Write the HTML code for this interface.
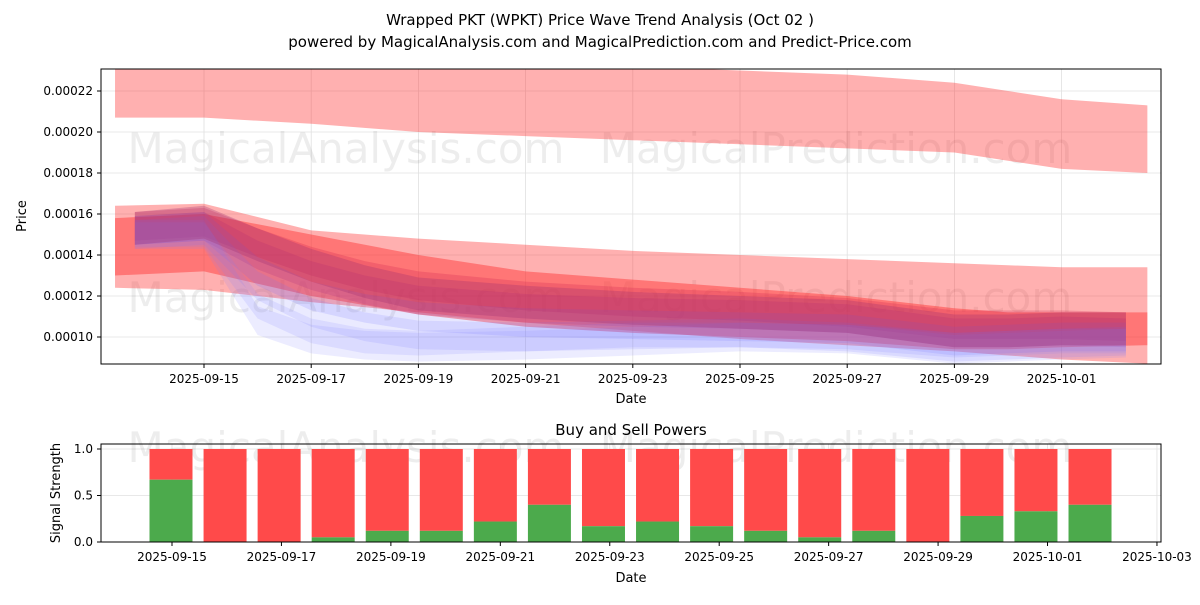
<!DOCTYPE html>
<html><head><meta charset="utf-8"><style>
body{margin:0;background:#fff;font-family:"Liberation Sans","DejaVu Sans",sans-serif}
svg text{font-family:"DejaVu Sans","Liberation Sans",sans-serif}
</style></head><body>
<svg id="c" width="1200" height="600" viewBox="0 0 1200 600" xmlns="http://www.w3.org/2000/svg">
<text x="600" y="25" text-anchor="middle" font-size="15">Wrapped PKT (WPKT) Price Wave Trend Analysis (Oct 02 )</text>
<text x="600" y="47" text-anchor="middle" font-size="15">powered by MagicalAnalysis.com and MagicalPrediction.com and Predict-Price.com</text>
<g id="topg"></g>
<g id="bot"></g>
</svg>
<script>
// ---- data ----
const bandDays = [-1.66, 0, 2, 4, 6, 8, 10, 12, 14, 15, 16, 17.6];
const topBandLow = [0.000207,0.000207,0.000204,0.000200,0.000198,0.000196,0.000194,0.000192,0.000190,0.000186,0.000182,0.000180];
const topBandHigh= [0.000240,0.000240,0.000238,0.000236,0.000234,0.000232,0.000230,0.000228,0.000224,0.000220,0.000216,0.000213];
const wideLow  = [0.000124,0.000123,0.000117,0.000112,0.000107,0.000103,0.000099,0.000096,0.000093,0.000091,0.000089,0.000087];
const wideHigh = [0.000164,0.000165,0.000152,0.000148,0.000145,0.000142,0.000140,0.000138,0.000136,0.000135,0.000134,0.000134];
const redLow   = [0.000130,0.000132,0.000120,0.000111,0.000105,0.000102,0.000100,0.000098,0.000094,0.000094,0.000095,0.000096];
const redHigh  = [0.000158,0.000160,0.000150,0.000140,0.000132,0.000128,0.000124,0.000120,0.000114,0.000112,0.000112,0.000112];
const waveDays = [-1.29, 0, 1, 2, 3, 4, 6, 8, 10, 12, 14, 15, 16, 17.2];
const waveCenters = [
 [0.000154,0.000156,0.000146,0.000137,0.000130,0.000125,0.000120,0.000117,0.000115,0.000112,0.000106,0.000106,0.000106,0.000105],
 [0.000152,0.000154,0.000140,0.000130,0.000123,0.000118,0.000114,0.000112,0.000111,0.000109,0.000102,0.000102,0.000103,0.000102],
 [0.000152,0.000154,0.000132,0.000120,0.000114,0.000110,0.000107,0.000106,0.000105,0.000104,0.000098,0.000099,0.000100,0.000100],
 [0.000150,0.000152,0.000125,0.000112,0.000105,0.000101,0.000100,0.000101,0.000102,0.000100,0.000095,0.000096,0.000097,0.000098],
 [0.000150,0.000150,0.000108,0.000099,0.000096,0.000095,0.000096,0.000098,0.000100,0.000099,0.000094,0.000095,0.000096,0.000097],
 [0.000150,0.000150,0.000115,0.000103,0.000098,0.000097,0.000099,0.000101,0.000101,0.000100,0.000096,0.000097,0.000098,0.000098],
 [0.000153,0.000156,0.000145,0.000135,0.000127,0.000121,0.000117,0.000114,0.000112,0.000110,0.000103,0.000103,0.000104,0.000104]
];
const waveHalf = [0.000007,0.000007,0.000007,0.000007,0.000007,0.000006,0.000008];
const waveColors = ['#d02050','#c03070','#6060ff','#7070ff','#8080ff','#8080ff','#a03070'];
const waveOpac = [0.25,0.25,0.15,0.15,0.15,0.15,0.3];
const yTicks = [0.00010,0.00012,0.00014,0.00016,0.00018,0.00020,0.00022];
const yTickLabels = ['0.00010','0.00012','0.00014','0.00016','0.00018','0.00020','0.00022'];
const xTickDays = [0,2,4,6,8,10,12,14,16];
const xTickLabels = ['2025-09-15','2025-09-17','2025-09-19','2025-09-21','2025-09-23','2025-09-25','2025-09-27','2025-09-29','2025-10-01'];
const barDays = [0,1,2,3,4,5,6,7,8,9,10,11,12,13,14,15,16,17];
const buyPower = [0.67,0,0,0.05,0.12,0.12,0.22,0.40,0.17,0.22,0.17,0.12,0.05,0.12,0,0.28,0.33,0.40];
const botTickDays = [0,2,4,6,8,10,12,14,16,18];
const botTickLabels = ['2025-09-15','2025-09-17','2025-09-19','2025-09-21','2025-09-23','2025-09-25','2025-09-27','2025-09-29','2025-10-01','2025-10-03'];
const sTicks = [0,0.5,1.0];
const sTickLabels = ['0.0','0.5','1.0'];

const NS='http://www.w3.org/2000/svg';
function mk(p,t,a){const e=document.createElementNS(NS,t);for(const k in a)e.setAttribute(k,a[k]);p.appendChild(e);return e;}
const L=101,R=1161,T=69,B=364;
const xs=d=>204+53.6*d;
const ys=v=>337-(v-0.0001)/0.00002*41;
const topG=document.getElementById('topg');
const cp=mk(topG,'clipPath',{id:'cp'});
mk(cp,'rect',{x:L,y:T,width:R-L,height:B-T});
yTicks.forEach(v=>{const g=mk(topG,'line',{x1:L,x2:R,y1:ys(v),y2:ys(v),stroke:'#e0e0e0','stroke-width':0.8});

});
xTickDays.forEach(d=>{const g=mk(topG,'line',{x1:xs(d),x2:xs(d),y1:T,y2:B,stroke:'#e0e0e0','stroke-width':0.8});

});
[[346,163,'MagicalAnalysis.com'],[836,163,'MagicalPrediction.com'],[346,312,'MagicalAnalysis.com'],[836,312,'MagicalPrediction.com']].forEach(w=>{
 const e=mk(topG,'text',{x:w[0],y:w[1],'font-size':42,fill:'#000','fill-opacity':0.07,'text-anchor':'middle'});e.textContent=w[2];
 
 
});
const plot=mk(topG,'g',{'clip-path':'url(#cp)'});
function band(days,lo,hi,color,op,name){
 let pts=days.map((d,i)=>xs(d)+','+ys(hi[i]));
 pts=pts.concat(days.map((d,i)=>xs(d)+','+ys(lo[i])).reverse());
 const p=mk(plot,'polygon',{points:pts.join(' '),fill:color,'fill-opacity':op});
 
 
}
band(bandDays,topBandLow,topBandHigh,'#ff3030',0.38,'upper-price-band');
band(bandDays,wideLow,wideHigh,'#ff3030',0.38,'wide-price-band');
band(bandDays,redLow,redHigh,'#ff3030',0.45,'core-price-band');
waveCenters.forEach((c,k)=>{
 band(waveDays,c.map(v=>v-waveHalf[k]),c.map(v=>v+waveHalf[k]),waveColors[k],waveOpac[k],'wave-band');
});
mk(topG,'rect',{x:L,y:T,width:R-L,height:B-T,fill:'none',stroke:'#000','stroke-width':1});
yTicks.forEach((v,i)=>{mk(topG,'line',{x1:L-4,x2:L,y1:ys(v),y2:ys(v),stroke:'#000'});
 const t=mk(topG,'text',{x:L-8,y:ys(v)+4,'font-size':12,'text-anchor':'end'});t.textContent=yTickLabels[i];
 
 });
xTickDays.forEach((d,i)=>{mk(topG,'line',{x1:xs(d),x2:xs(d),y1:B,y2:B+4,stroke:'#000'});
 const t=mk(topG,'text',{x:xs(d),y:B+19,'font-size':12,'text-anchor':'middle'});t.textContent=xTickLabels[i];
 
 });
let t=mk(topG,'text',{x:631,y:403,'font-size':13,'text-anchor':'middle'});t.textContent='Date';


t=mk(topG,'text',{x:26,y:216,'font-size':13,'text-anchor':'middle',transform:'rotate(-90 26 216)'});t.textContent='Price';



const bot=document.getElementById('bot');
const BT=444,BB=542;
const bx=d=>171+54.06*d;
const tx=d=>172+54.72*d;
const by=v=>BB-v*(BB-449)/1.0;
t=mk(bot,'text',{x:631,y:435,'font-size':15,'text-anchor':'middle'});t.textContent='Buy and Sell Powers';


sTicks.forEach(v=>{const g=mk(bot,'line',{x1:L,x2:R,y1:by(v),y2:by(v),stroke:'#e0e0e0','stroke-width':0.8});

});
botTickDays.forEach(d=>{const g=mk(bot,'line',{x1:tx(d),x2:tx(d),y1:BT,y2:BB,stroke:'#e0e0e0','stroke-width':0.8});

});
[[346,462,'MagicalAnalysis.com'],[836,462,'MagicalPrediction.com']].forEach(w=>{
 const e=mk(bot,'text',{x:w[0],y:w[1],'font-size':42,fill:'#000','fill-opacity':0.07,'text-anchor':'middle'});e.textContent=w[2];
 
 
});
barDays.forEach((d,i)=>{
 const b=buyPower[i];
 const s=mk(bot,'rect',{x:bx(d)-21.5,y:by(1),width:43,height:by(b)-by(1),fill:'#ff4a4a'});
 
 
 const g=mk(bot,'rect',{x:bx(d)-21.5,y:by(b),width:43,height:by(0)-by(b),fill:'#4caa4c'});
 
 
});
mk(bot,'rect',{x:L,y:BT,width:R-L,height:BB-BT,fill:'none',stroke:'#000','stroke-width':1});
sTicks.forEach((v,i)=>{mk(bot,'line',{x1:L-4,x2:L,y1:by(v),y2:by(v),stroke:'#000'});
 const q=mk(bot,'text',{x:L-8,y:by(v)+4,'font-size':12,'text-anchor':'end'});q.textContent=sTickLabels[i];
 
 });
botTickDays.forEach((d,i)=>{mk(bot,'line',{x1:tx(d),x2:tx(d),y1:BB,y2:BB+4,stroke:'#000'});
 const q=mk(bot,'text',{x:tx(d),y:BB+19,'font-size':12,'text-anchor':'middle'});q.textContent=botTickLabels[i];
 
 });
t=mk(bot,'text',{x:631,y:582,'font-size':13,'text-anchor':'middle'});t.textContent='Date';


t=mk(bot,'text',{x:60,y:493,'font-size':13,'text-anchor':'middle',transform:'rotate(-90 60 493)'});t.textContent='Signal Strength';


</script>
</body></html>
